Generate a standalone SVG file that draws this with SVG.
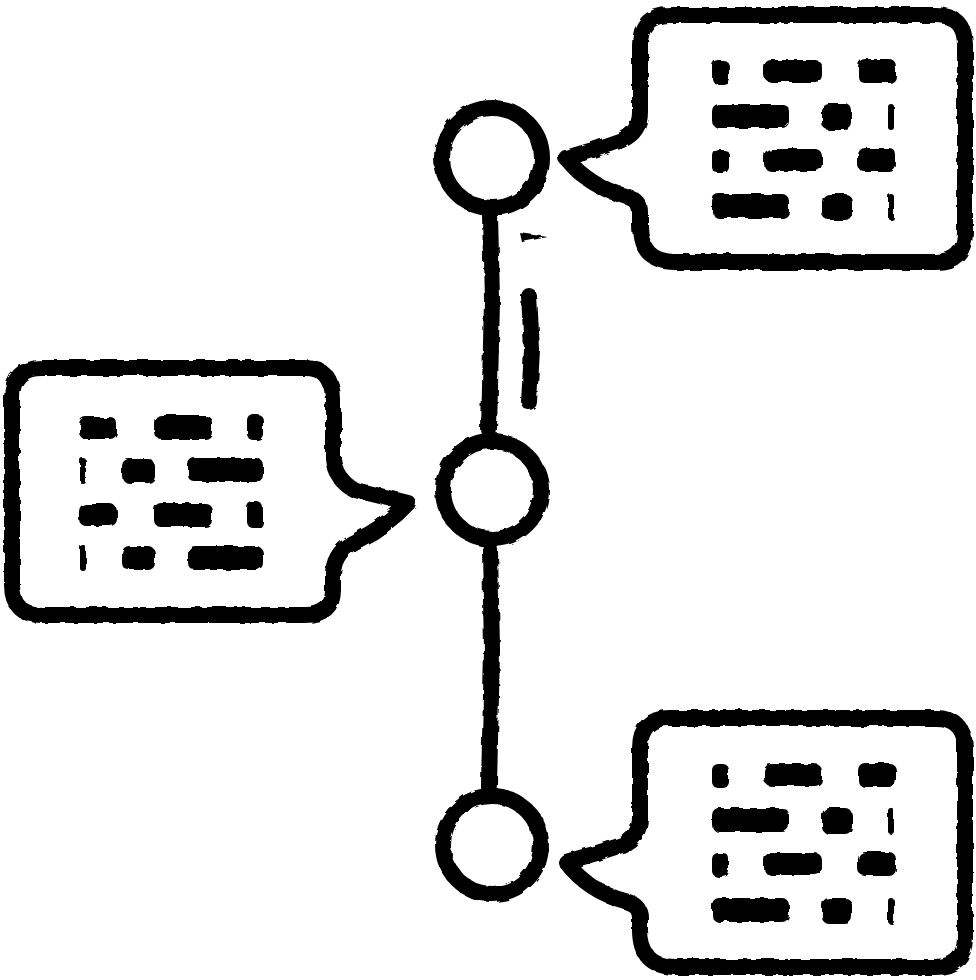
<svg xmlns="http://www.w3.org/2000/svg" width="976" height="980" viewBox="0 0 976 980">
<defs>
<style>
.ln{fill:none;stroke:#000;stroke-width:16;stroke-linecap:round;stroke-linejoin:round}
.bl rect{fill:#000}
</style>
<filter id="rough" x="-5%" y="-5%" width="110%" height="110%">
<feTurbulence type="fractalNoise" baseFrequency="0.09" numOctaves="2" seed="3"/>
<feDisplacementMap in="SourceGraphic" scale="5"/>
</filter>
</defs>
<rect width="976" height="980" fill="#fff"/>
<g filter="url(#rough)">
<g id="connectors">
<path class="ln" d="M490,215 L492,300 L489,430" stroke-width="14"/>
<path class="ln" d="M490,550 L492,650 L489,785" stroke-width="14"/>
<path class="ln" d="M529,296 L532,350 L529,402" stroke-width="13"/>
<path d="M520,233 L548,237 L522,242 Z" fill="#000"/>
</g>
<g id="circle-top"><circle class="ln" cx="492" cy="158" r="50"/></g>
<g id="circle-mid"><circle class="ln" cx="492" cy="490" r="49"/></g>
<g id="circle-bot"><circle class="ln" cx="492" cy="845" r="49"/></g>
<g id="bubble-top">
<path class="ln" d="M670,15 H935 Q965,15 965,45 V232 Q965,262 935,262 H675 Q640,262 640,225 V212 Q640,200 625,196 Q588,186 566,158 Q595,150 622,140 Q640,132 640,112 V45 Q640,15 670,15 Z"/>
<g class="bl">
<rect x="712" y="60" width="17" height="24" rx="6"/><rect x="764" y="60" width="58" height="22" rx="7"/><rect x="858" y="59" width="38" height="24" rx="7"/>
<rect x="712" y="104" width="77" height="24" rx="7"/><rect x="822" y="104" width="30" height="26" rx="7"/><rect x="888" y="104" width="6" height="26" rx="3"/>
<rect x="712" y="149" width="17" height="24" rx="6"/><rect x="764" y="149" width="58" height="22" rx="7"/><rect x="858" y="148" width="38" height="24" rx="7"/>
<rect x="712" y="194" width="77" height="24" rx="7"/><rect x="822" y="194" width="30" height="26" rx="7"/><rect x="888" y="194" width="6" height="26" rx="3"/>
</g>
</g>
<g id="bubble-left">
<path class="ln" d="M42,368 H305 Q333,368 333,400 V458 Q335,480 355,490 Q385,497 408,503 Q388,525 358,540 Q335,550 333,572 V590 Q333,615 305,615 H42 Q12,615 12,585 V398 Q12,368 42,368 Z"/>
<g class="bl">
<rect x="79" y="417" width="38" height="22" rx="7"/><rect x="154" y="415" width="58" height="24" rx="7"/><rect x="247" y="414" width="16" height="26" rx="6"/>
<rect x="80" y="458" width="6" height="26" rx="3"/><rect x="122" y="459" width="33" height="24" rx="7"/><rect x="188" y="458" width="75" height="24" rx="7"/>
<rect x="79" y="504" width="38" height="22" rx="7"/><rect x="154" y="503" width="58" height="24" rx="7"/><rect x="247" y="502" width="16" height="26" rx="6"/>
<rect x="80" y="545" width="6" height="26" rx="3"/><rect x="122" y="546" width="33" height="24" rx="7"/><rect x="188" y="546" width="75" height="24" rx="7"/>
</g>
</g>
<g id="bubble-bottom">
<path class="ln" d="M670,718 H935 Q965,718 965,748 V937 Q965,967 935,967 H675 Q640,967 640,930 V917 Q640,905 625,901 Q588,891 566,862 Q595,854 622,845 Q640,837 640,817 V748 Q640,718 670,718 Z"/>
<g class="bl">
<rect x="712" y="764" width="17" height="24" rx="6"/><rect x="764" y="764" width="58" height="22" rx="7"/><rect x="858" y="763" width="38" height="24" rx="7"/>
<rect x="712" y="808" width="77" height="24" rx="7"/><rect x="822" y="808" width="30" height="26" rx="7"/><rect x="888" y="808" width="6" height="26" rx="3"/>
<rect x="712" y="853" width="17" height="24" rx="6"/><rect x="764" y="853" width="58" height="22" rx="7"/><rect x="858" y="852" width="38" height="24" rx="7"/>
<rect x="712" y="898" width="77" height="24" rx="7"/><rect x="822" y="898" width="30" height="26" rx="7"/><rect x="888" y="898" width="6" height="26" rx="3"/>
</g>
</g>
</g>
</svg>
